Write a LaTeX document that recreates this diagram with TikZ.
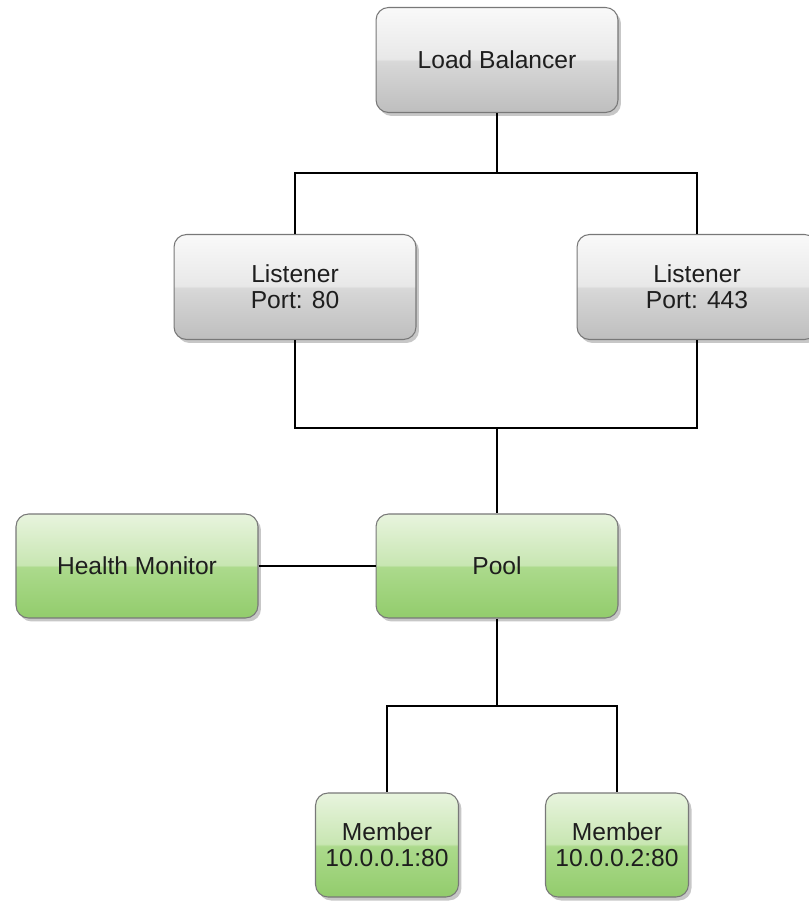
\documentclass[tikz,border=0pt]{standalone}
\usepackage{fontspec}
\setmainfont{Liberation Sans}
\usetikzlibrary{shadows}

\definecolor{greyTop}{RGB}{249,249,249}
\definecolor{greyMidA}{RGB}{232,232,232}
\definecolor{greyMidB}{RGB}{216,216,216}
\definecolor{greyBot}{RGB}{190,190,190}
\definecolor{greenTop}{RGB}{232,244,222}
\definecolor{greenMidA}{RGB}{200,230,178}
\definecolor{greenMidB}{RGB}{172,218,140}
\definecolor{greenBot}{RGB}{146,204,108}
\definecolor{edgeGrey}{RGB}{120,120,120}
\definecolor{txtGrey}{RGB}{30,30,30}

\pgfdeclareverticalshading{greygloss}{100bp}{color(0bp)=(greyBot); color(25bp)=(greyBot); color(49.5bp)=(greyMidB); color(50.5bp)=(greyMidA); color(75bp)=(greyTop); color(100bp)=(greyTop)}
\pgfdeclareverticalshading{greengloss}{100bp}{color(0bp)=(greenBot); color(25bp)=(greenBot); color(49.5bp)=(greenMidB); color(50.5bp)=(greenMidA); color(75bp)=(greenTop); color(100bp)=(greenTop)}

\tikzset{
  basebox/.style={draw=edgeGrey, line width=0.6pt, rounded corners=0.25cm, align=center,
    text=txtGrey, font=\fontsize{14pt}{14.8pt}\selectfont, inner sep=0pt,
    drop shadow={shadow xshift=0.06cm, shadow yshift=-0.07cm, fill=black!22, opacity=1}},
  greybox/.style={basebox, shading=greygloss, minimum width=4.84cm, minimum height=2.1cm},
  greenbox/.style={basebox, shading=greengloss, minimum width=4.84cm, minimum height=2.08cm},
  memberbox/.style={greenbox, minimum width=2.86cm},
  link/.style={draw=black, line width=0.8pt}
}

\begin{document}
\begin{tikzpicture}[x=0.02cm, y=0.02cm]
\useasboundingbox (0,0) rectangle (808,-901);

% Components
\node[greybox] (lb) at (497,-60) {Load Balancer};

\node[greybox] (l80) at (295,-287) {Listener\\Port: 80};
\node[greybox, minimum width=4.8cm] (l443) at (697,-287) {Listener\\Port: 443};

\node[greenbox] (hm) at (137,-566) {Health Monitor};
\node[greenbox] (pool) at (497,-566) {Pool};

\node[memberbox] (m1) at (387,-845) {Member\\10.0.0.1:80};
\node[memberbox] (m2) at (617,-845) {Member\\10.0.0.2:80};

% Connections
\coordinate (split) at (497,-173);
\coordinate (merge) at (497,-428);
\coordinate (fork) at (497,-706);

\draw[link] (lb.south) -- (split) -| (l80.north);
\draw[link] (split) -| (l443.north);

\draw[link] (l80.south) |- (merge) -| (l443.south);
\draw[link] (merge) -- (pool.north);

\draw[link] (hm.east) -- (pool.west);

\draw[link] (pool.south) -- (fork) -| (m1.north);
\draw[link] (fork) -| (m2.north);

\end{tikzpicture}
\end{document}
